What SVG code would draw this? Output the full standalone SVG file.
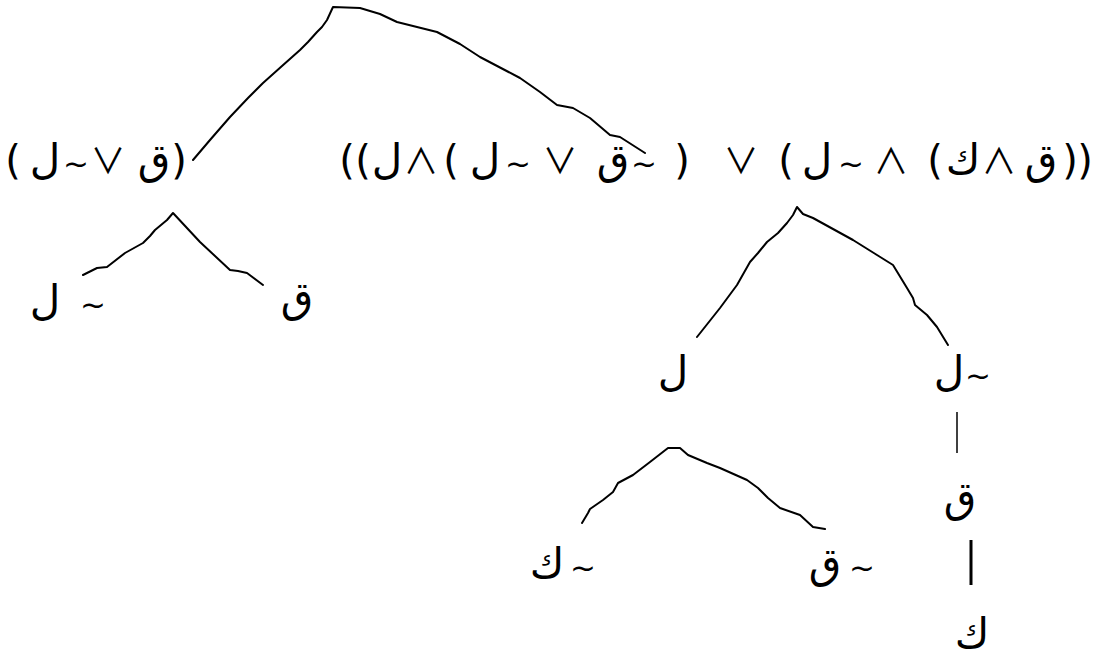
<svg xmlns="http://www.w3.org/2000/svg" width="1093" height="657" viewBox="0 0 1093 657">
<style>
text{font-family:"DejaVu Sans","Noto Sans",sans-serif;font-size:40px;fill:#000;text-anchor:middle;direction:ltr;unicode-bidi:bidi-override}
.ar{font-size:42px}
.t{font-size:31px}
.op{font-family:"Noto Sans CJK JP","DejaVu Sans",sans-serif;font-size:35px}
.c{fill:none;stroke:#000;stroke-width:2;stroke-linejoin:round;stroke-linecap:round}
</style>
<rect width="1093" height="657" fill="#fff"/>
<g id="connectors">
<path class="c" d="M193,160 L210,140 L230,117 L248,98 L263,83 L282,66 L300,50 L308,42 L317,32 L322,27 L327,20 L333,7 L360,8 L380,14 L397,22 L437,32 L460,44 L480,57 L520,78 L540,92 L557,105 L573,108 L590,118 L610,135 L620,137 L645,153"/>
<path class="c" d="M83,275 L97,268 L107,267 L125,253 L143,243 L150,236 L155,230 L167,220 L173,213 L200,242 L230,270 L238,271 L247,273 L263,285"/>
<path class="c" d="M697,337 L720,308 L737,285 L750,262 L758,253 L767,242 L778,233 L787,223 L793,215 L797,207 L803,214 L813,218 L853,240 L877,255 L893,265 L907,288 L913,298 L915,305 L927,315 L937,327 L948,345"/>
<path class="c" d="M582,523 L588,513 L590,509 L603,500 L613,492 L618,483 L633,475 L650,462 L668,448 L680,448 L688,455 L707,463 L720,468 L747,480 L758,488 L768,498 L780,508 L800,515 L813,527 L825,529"/>
<line x1="957" y1="412" x2="957" y2="453" stroke="#000" stroke-width="1.5"/>
<line x1="971" y1="540" x2="971" y2="585" stroke="#000" stroke-width="3"/>
</g>
<g id="node-left-formula"><text y="174"><tspan x="13">(</tspan><tspan class="ar" x="45">ل</tspan><tspan class="t" x="76">~</tspan><tspan class="op" x="108">∨</tspan><tspan class="ar" x="154">ق</tspan><tspan x="179">)</tspan></text></g>
<g id="node-root-formula"><text y="174"><tspan x="347">(</tspan><tspan x="363">(</tspan><tspan class="ar" x="387">ل</tspan><tspan class="op" x="421">∧</tspan><tspan x="451">(</tspan><tspan class="ar" x="485">ل</tspan><tspan class="t" x="518">~</tspan><tspan class="op" x="560">∨</tspan><tspan class="ar" x="613">ق</tspan><tspan class="t" x="644">~</tspan><tspan x="682">)</tspan><tspan class="op" x="741">∨</tspan><tspan x="786">(</tspan><tspan class="ar" x="817">ل</tspan><tspan class="t" x="851">~</tspan><tspan class="op" x="891">∧</tspan><tspan x="935">(</tspan><tspan class="ar" x="963">ك</tspan><tspan class="op" x="999">∧</tspan><tspan class="ar" x="1041">ق</tspan><tspan x="1070">)</tspan><tspan x="1085">)</tspan></text></g>
<g id="node-notL-left"><text y="315"><tspan class="ar" x="45">ل</tspan><tspan class="t" x="93">~</tspan></text></g>
<g id="node-Q-left"><text y="312"><tspan class="ar" x="297">ق</tspan></text></g>
<g id="node-L-mid"><text y="386"><tspan class="ar" x="673">ل</tspan></text></g>
<g id="node-notL-right"><text y="386"><tspan class="ar" x="949">ل</tspan><tspan class="t" x="978">~</tspan></text></g>
<g id="node-Q-right"><text y="512"><tspan class="ar" x="960">ق</tspan></text></g>
<g id="node-K-right"><text y="648"><tspan class="ar" x="972">ك</tspan></text></g>
<g id="node-notK"><text y="578"><tspan class="ar" x="547">ك</tspan><tspan class="t" x="583">~</tspan></text></g>
<g id="node-notQ"><text y="578"><tspan class="ar" x="825">ق</tspan><tspan class="t" x="862">~</tspan></text></g>
</svg>
